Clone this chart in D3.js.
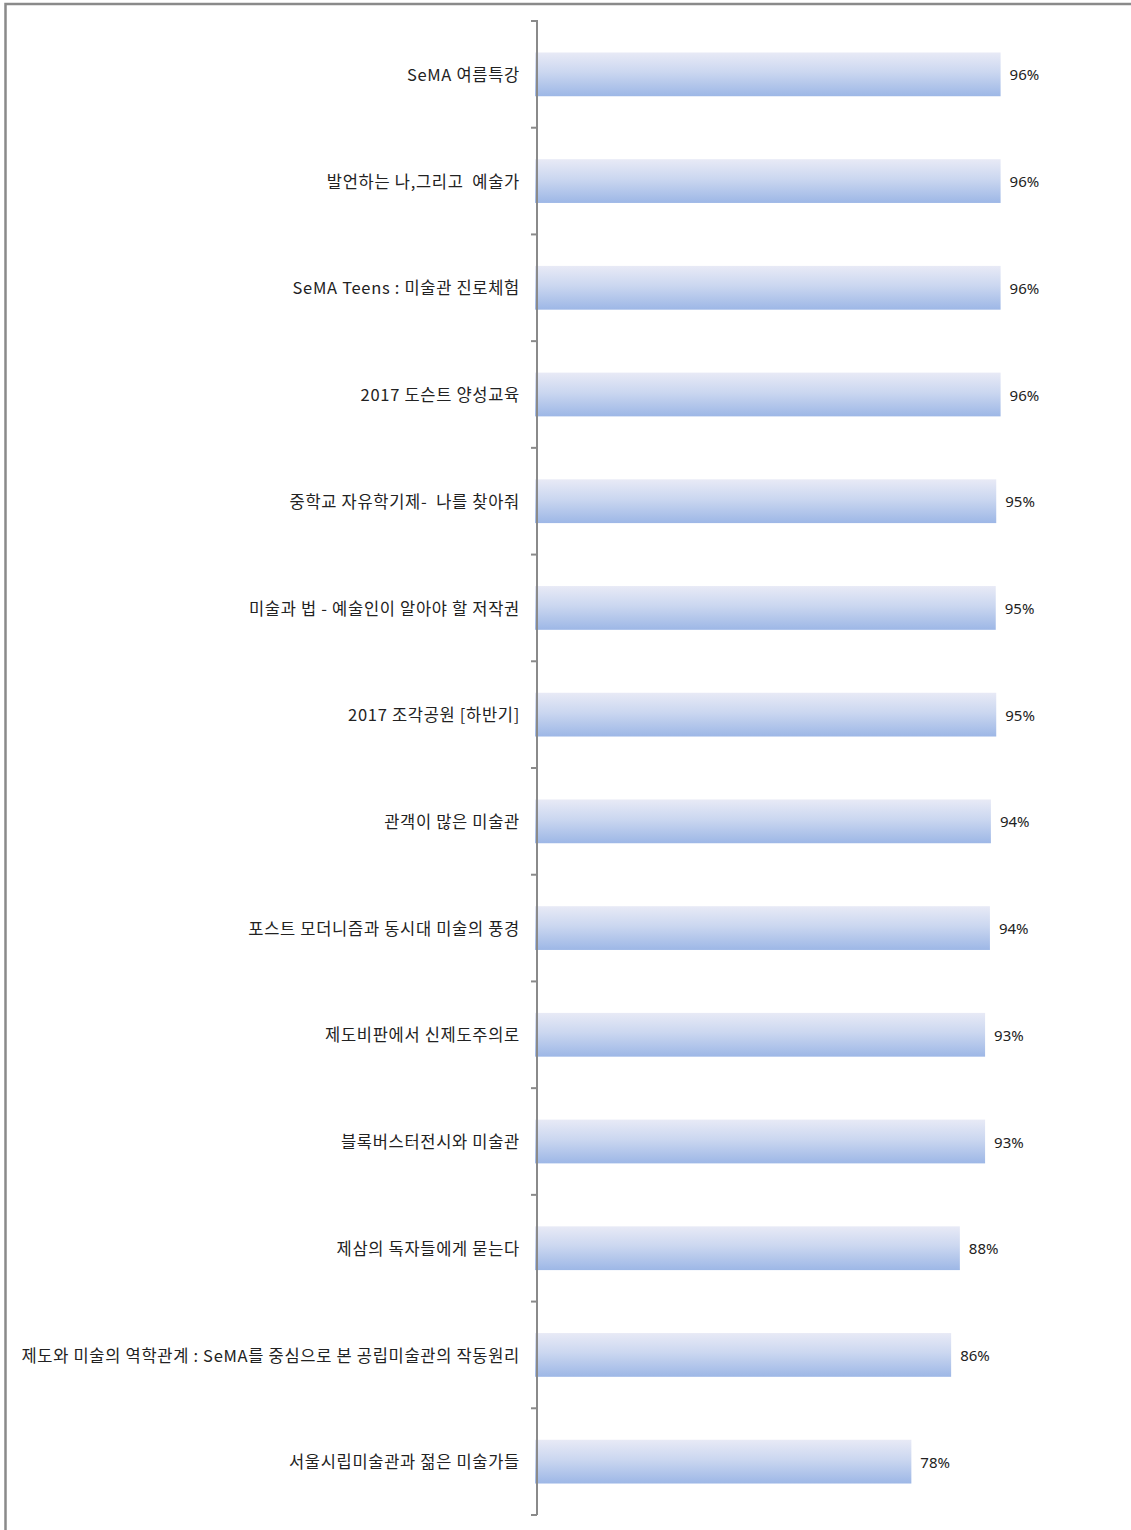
<!DOCTYPE html>
<html>
<head>
<meta charset="utf-8">
<script src="https://cdn.jsdelivr.net/npm/d3@7"></script>
<style>
body { margin: 0; background: #fff; }
svg { display: block; }
</style>
</head>
<body>
<div id="chart"></div>
<script>
var categories = [
	'SeMA 여름특강',
	'발언하는 나,그리고  예술가',
	'SeMA Teens : 미술관 진로체험',
	'2017 도슨트 양성교육',
	'중학교 자유학기제-  나를 찾아줘',
	'미술과 법 - 예술인이 알아야 할 저작권',
	'2017 조각공원 [하반기]',
	'관객이 많은 미술관',
	'포스트 모더니즘과 동시대 미술의 풍경',
	'제도비판에서 신제도주의로',
	'블록버스터전시와 미술관',
	'제삼의 독자들에게 묻는다',
	'제도와 미술의 역학관계 : SeMA를 중심으로 본 공립미술관의 작동원리',
	'서울시립미술관과 젊은 미술가들'
];
var values = [96, 96, 96, 96, 95.1, 95, 95.1, 94, 93.8, 92.8, 92.8, 87.6, 85.8, 77.6];

var w = 1131,
	h = 1530;

var margin = { top: 21, bottom: 15, axisX: 537 };

var svg = d3.select('#chart').append('svg').attr('width', w).attr('height', h);

// outer frame (runs off right and bottom edges)
svg
	.append('rect')
	.attr('x', 5.5)
	.attr('y', 4)
	.attr('width', 1300)
	.attr('height', 1700)
	.attr('fill', 'none')
	.attr('stroke', '#8a8a8a')
	.attr('stroke-width', 2.5);

var defs = svg.append('defs');
var grad = defs
	.append('linearGradient')
	.attr('id', 'barGrad')
	.attr('x1', 0)
	.attr('y1', 0)
	.attr('x2', 0)
	.attr('y2', 1);
grad.append('stop').attr('offset', '0%').attr('stop-color', '#e8eaf6');
grad.append('stop').attr('offset', '45%').attr('stop-color', '#cbd7f0');
grad.append('stop').attr('offset', '100%').attr('stop-color', '#9db7e6');

var yScale = d3.scaleBand().domain(categories).range([ margin.top, h - margin.bottom ]).padding(0);

var xScale = d3.scaleLinear().domain([ 0, 100 ]).range([ 535, 1020 ]);

var barH = yScale.step() * 0.41;

// bars
svg
	.selectAll('.bar')
	.data(values)
	.enter()
	.append('rect')
	.attr('class', 'bar')
	.attr('x', xScale(0))
	.attr('y', function(d, i) {
		return yScale(categories[i]) + (yScale.step() - barH) / 2;
	})
	.attr('width', function(d) {
		return xScale(d) - xScale(0);
	})
	.attr('height', barH)
	.attr('fill', 'url(#barGrad)');

// axis line + ticks at band boundaries
svg
	.append('line')
	.attr('x1', margin.axisX)
	.attr('x2', margin.axisX)
	.attr('y1', margin.top - 1)
	.attr('y2', h - margin.bottom)
	.attr('stroke', '#8a8a8a')
	.attr('stroke-width', 2);

var bounds = categories.map(function(c) {
	return yScale(c);
});
bounds.push(h - margin.bottom);

svg
	.selectAll('.tick')
	.data(bounds)
	.enter()
	.append('line')
	.attr('class', 'tick')
	.attr('x1', margin.axisX - 6)
	.attr('x2', margin.axisX)
	.attr('y1', function(d) {
		return d;
	})
	.attr('y2', function(d) {
		return d;
	})
	.attr('stroke', '#8a8a8a')
	.attr('stroke-width', 2);

// category labels
svg
	.selectAll('.cat')
	.data(categories)
	.enter()
	.append('text')
	.attr('class', 'cat')
	.attr('x', 520)
	.attr('y', function(d) {
		return yScale(d) + yScale.step() / 2;
	})
	.attr('dy', '0.4em')
	.attr('text-anchor', 'end')
	.style('font-family', "'Noto Sans CJK KR', 'Noto Sans', sans-serif")
	.style('font-size', '16.5px')
	.style('letter-spacing', '0.7px')
	.style('fill', '#222')
	.style('white-space', 'pre')
	.text(function(d) {
		return d;
	});

// value labels
svg
	.selectAll('.val')
	.data(values)
	.enter()
	.append('text')
	.attr('class', 'val')
	.attr('x', function(d) {
		return xScale(d) + 9;
	})
	.attr('y', function(d, i) {
		return yScale(categories[i]) + yScale.step() / 2;
	})
	.attr('dy', '0.4em')
	.style('font-family', "'Noto Sans', sans-serif")
	.style('font-size', '15px')
	.style('fill', '#222')
	.text(function(d) {
		return Math.round(d) + '%';
	});
</script>
</body>
</html>
